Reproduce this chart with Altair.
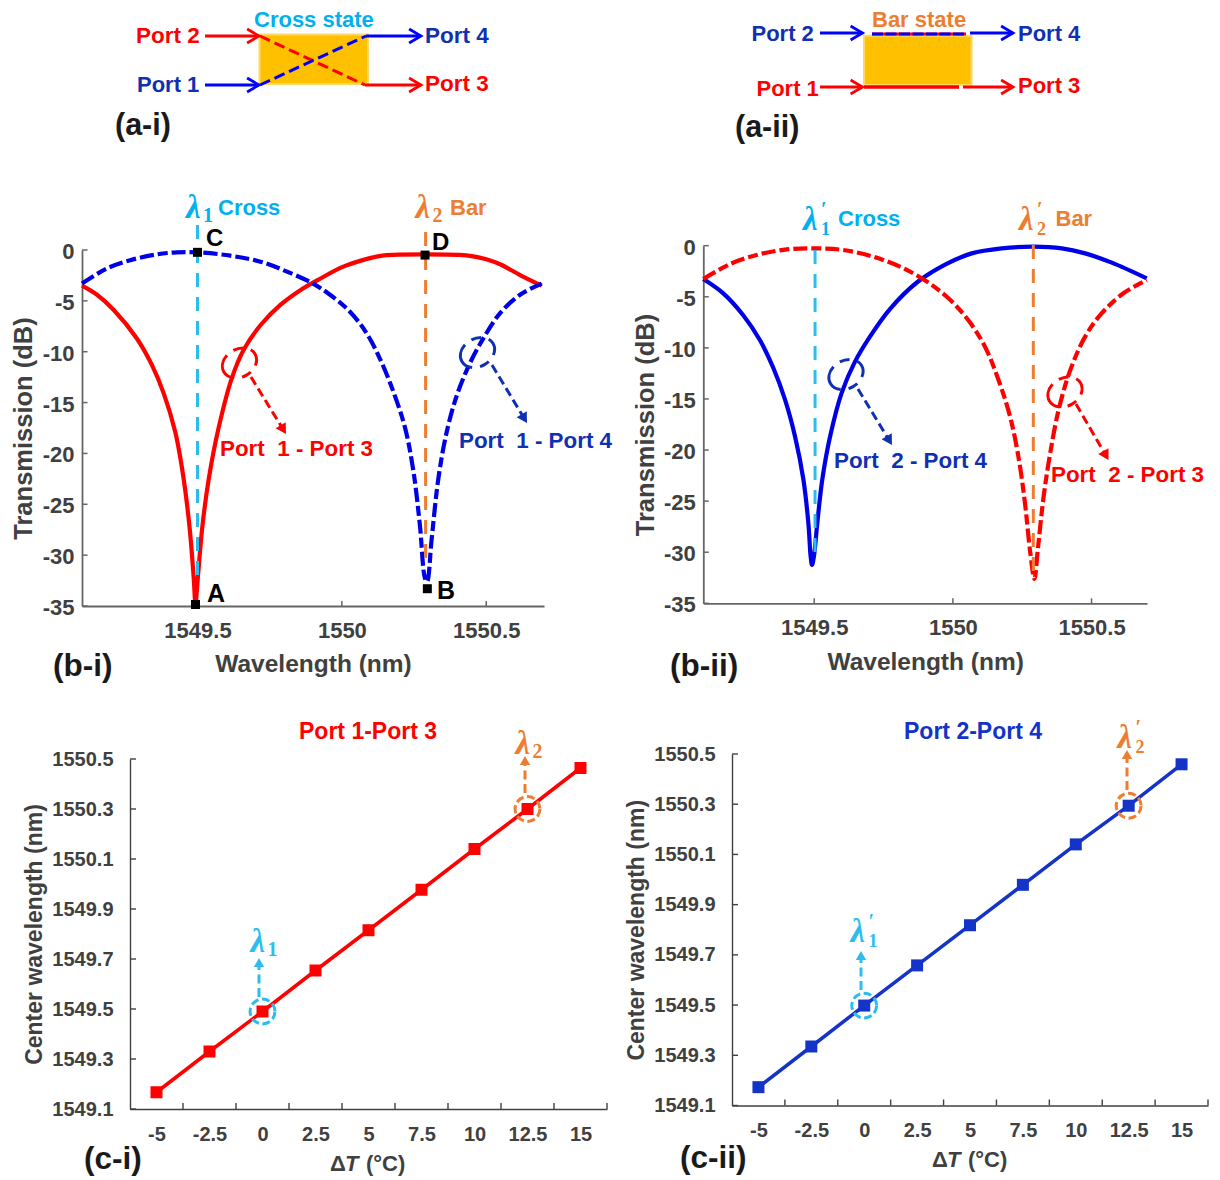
import math
import altair as alt
import pandas as pd

# ---------- data ----------
bi_red_wl = [1549.1,1549.152,1549.21,1549.29,1549.342,1549.383,1549.423,1549.452,1549.473,1549.487,1549.493,1549.501,1549.516,1549.539,1549.573,1549.62,1549.66,1549.718,1549.787,1549.856,1549.926,1550.005,1550.097,1550.14,1550.178,1550.288,1550.409,1550.45,1550.5,1550.548,1550.617,1550.692]
bi_red_db = [-3.5,-4.4,-5.9,-8.7,-11.3,-14.1,-17.9,-22.5,-27.4,-32.3,-34.75,-32.3,-27.4,-22.5,-17.5,-12.5,-9.8,-7.4,-5.4,-3.95,-2.8,-1.64,-0.8,-0.55,-0.47,-0.43,-0.48,-0.6,-0.9,-1.4,-2.46,-3.5]
bi_blue_wl = [1549.1,1549.187,1549.267,1549.36,1549.429,1549.504,1549.614,1549.718,1549.81,1549.9,1549.959,1550.028,1550.086,1550.132,1550.178,1550.219,1550.248,1550.27,1550.288,1550.295,1550.311,1550.334,1550.363,1550.398,1550.444,1550.496,1550.548,1550.617,1550.692]
bi_blue_db = [-3.3,-1.8,-1,-0.43,-0.23,-0.23,-0.56,-1.15,-2.13,-3.3,-4.4,-6.07,-8.2,-10.7,-13.9,-17.5,-21.8,-27,-32.3,-32.6,-28.4,-22.5,-17.9,-14.3,-11.1,-8.4,-6.2,-4.4,-3.3]
bii_blue_wl = [1549.1,1549.172,1549.244,1549.304,1549.353,1549.395,1549.431,1549.461,1549.479,1549.487,1549.492,1549.499,1549.511,1549.529,1549.557,1549.599,1549.647,1549.701,1549.773,1549.87,1549.972,1550.068,1550.176,1550.29,1550.393,1550.477,1550.573,1550.699]
bii_blue_db = [-3.26,-4.66,-6.8,-9.23,-12,-15.1,-18.7,-22.9,-27.2,-30.4,-31.25,-30.4,-27.2,-22.9,-18.7,-14.4,-11.35,-8.9,-6.2,-3.6,-1.85,-0.75,-0.26,-0.1,-0.26,-0.75,-1.66,-3.2]
bii_red_wl = [1549.1,1549.196,1549.292,1549.401,1549.503,1549.605,1549.713,1549.809,1549.9,1549.984,1550.056,1550.116,1550.164,1550.206,1550.236,1550.26,1550.278,1550.294,1550.306,1550.327,1550.351,1550.381,1550.423,1550.477,1550.537,1550.615,1550.699]
bii_red_db = [-3.26,-1.8,-0.91,-0.36,-0.26,-0.42,-1.08,-2.05,-3.4,-5.15,-7.3,-9.9,-13.1,-16.7,-20.6,-25.2,-29.8,-32.6,-29.8,-24.6,-20.3,-16.1,-12.2,-8.9,-6.6,-4.66,-3.36]
corner_wl = [1549.493,1550.296,1549.5,1550.288]
corner_db = [-34.85,-33.3,-0.23,-0.5]
delta_t = [-5,-2.5,0,2.5,5,7.5,10,12.5,15]
ci_wl = [1549.167,1549.33,1549.49,1549.654,1549.815,1549.977,1550.14,1550.30,1550.464]
cii_wl = [1549.173,1549.335,1549.498,1549.658,1549.818,1549.979,1550.14,1550.294,1550.459]
db_ticks = [-35,-30,-25,-20,-15,-10,-5,0]
wl_ticks = [1549.5,1550,1550.5]
cw_ticks = [1549.1,1549.3,1549.5,1549.7,1549.9,1550.1,1550.3,1550.5]
dt_edges = [-3.75,-1.25,1.25,3.75,6.25,8.75,11.25,13.75,16.25]

SANS = "Liberation Sans"
SERIF = "Liberation Serif"
RED = "#FF0000"
BLUE = "#0000E6"
PBLUE = "#0000FF"
NAVY = "#1030B4"
CBLUE = "#1433C8"
CYAN = "#00B0F0"
LCYAN = "#2BBDF0"
ORANGE = "#ED7D31"
GRAY = "#404040"
AXC = "#666666"
INK = "#1A1A1A"
VIEW_W, VIEW_H = 1204, 1164
M = 8  # page margin: everything below is given in picture pixels, less this margin
one = pd.DataFrame({"a": [0]})


class Panel:
    def __init__(self):
        self.layers = []

    def text(self, x, y, s, size=22, color="#000000", weight="bold", style="normal", font=SANS, align="left"):
        self.layers.append(alt.Chart(one).mark_text(text=s, fontSize=size, color=color, fontWeight=weight, fontStyle=style,
                           font=font, align=align, baseline="middle")
                           .encode(x=alt.value(x - M), y=alt.value(y + 0.06 * size - M)))

    def box(self, x1, y1, x2, y2):
        self.layers.append(alt.Chart(one).mark_rect(fill="#FFC000", stroke="#FFD966", strokeWidth=2)
                           .encode(x=alt.value(x1 - M), x2=alt.value(x2 - M), y=alt.value(y1 - M), y2=alt.value(y2 - M)))

    def seg(self, x1, y1, x2, y2, color, width=2.8, dash=None):
        kw = dict(strokeDash=dash) if dash else {}
        self.layers.append(alt.Chart(one).mark_rule(color=color, strokeWidth=width, **kw)
                           .encode(x=alt.value(x1 - M), x2=alt.value(x2 - M), y=alt.value(y1 - M), y2=alt.value(y2 - M)))

    def arrow(self, x1, y1, x2, y2, color, width=3, dash=(9, 4.5), size=140):
        L = math.hypot(x2 - x1, y2 - y1)
        ux, uy = (x2 - x1) / L, (y2 - y1) / L
        h = math.sqrt(size) / 2 * 0.866
        self.seg(x1, y1, x2 - ux * h, y2 - uy * h, color, width, list(dash))
        ang = math.degrees(math.atan2(ux, -uy)) % 360
        self.layers.append(alt.Chart(one).mark_point(shape="triangle-up", filled=True, size=size, color=color, opacity=1, angle=ang)
                           .encode(x=alt.value(x2 - ux * h - M), y=alt.value(y2 - uy * h - M)))

    def open_arrow(self, x1, y1, x2, y2, color):
        self.seg(x1, y1, x2, y2, color, 3)
        self.layers.append(alt.Chart(one).mark_point(shape="M-1.7,-1L0,0L-1.7,1", filled=False, size=196, color=color, opacity=1, strokeWidth=2.8)
                           .encode(x=alt.value(x2 - M), y=alt.value(y2 - M)))

    def ellipse(self, cx, cy, rx, ry, angle, color):
        r = ry / rx
        p = f"M-1,0A1,{r:.3f},0,1,1,1,0A1,{r:.3f},0,1,1,-1,0Z"
        self.layers.append(alt.Chart(one).mark_point(shape=p, filled=False, size=(2 * rx) ** 2, color=color, opacity=1, strokeWidth=3,
                                                     strokeDash=[18, 8, 10, 8], angle=angle)
                           .encode(x=alt.value(cx - M), y=alt.value(cy - M)))

    def lam(self, x, y, sub, color, prime=False, size=33):
        self.text(x, y, "\u03bb", size, color, "bold", "italic", SERIF)
        if prime:
            self.text(x + 18, y - 9, "\u2032", 20, color, "bold", "normal", SERIF)
            self.text(x + 18, y + 11, sub, 18, color, "bold", "normal", SERIF)
        else:
            self.text(x + 17, y + 9, sub, 20, color, "bold", "normal", SERIF)

    def chart(self, *base):
        return alt.layer(*base, *self.layers)


def spectrum(panel, left, right, bottom, top, solid, dashed, solid_color, dash_color, vlines, title_x, title_y, markers=False):
    x = alt.X("x:Q", scale=alt.Scale(domain=[1549.1, 1550.7], range=[left - M, right - M], nice=False, zero=False),
              axis=alt.Axis(orient="bottom", offset=-(VIEW_H - (bottom - M)), values=wl_ticks, labelExpr="''+datum.value", ticks=False, grid=False,
                            domainColor=AXC, domainWidth=1.8, labelFont=SANS, labelFontSize=22, labelFontWeight="bold", labelColor=GRAY, labelPadding=14,
                            title="Wavelength (nm)", titleFont=SANS, titleFontSize=24.5, titleFontWeight="bold", titleColor=GRAY,
                            titleBaseline="middle", titleY=title_y))
    y = alt.Y("y:Q", scale=alt.Scale(domain=[-35, 0], range=[bottom - M, top - M], nice=False, zero=False),
              axis=alt.Axis(orient="left", offset=-(left - M), values=db_ticks, labelExpr="''+datum.value", ticks=False, grid=False,
                            domainColor=AXC, domainWidth=1.8, labelFont=SANS, labelFontSize=22, labelFontWeight="bold", labelColor=GRAY, labelPadding=8,
                            labelOffset=1.5,
                            title="Transmission (dB)", titleFont=SANS, titleFontSize=25.5, titleFontWeight="bold", titleColor=GRAY,
                            titleBaseline="middle", titleX=title_x))
    base = [
        alt.Chart(pd.DataFrame({"x": wl_ticks})).mark_rule(color=AXC, strokeWidth=1.5)
        .encode(x=x, y=alt.value(bottom - M), y2=alt.value(bottom - M - 5)),
        alt.Chart(pd.DataFrame({"y": db_ticks})).mark_rule(color=AXC, strokeWidth=1.5)
        .encode(y=y, x=alt.value(left - M), x2=alt.value(left - M + 5.5)),
        alt.Chart(pd.DataFrame({"x": solid[0], "y": solid[1]})).mark_line(color=solid_color, strokeWidth=4.2, interpolate="catmull-rom")
        .encode(x=x, y=y),
        alt.Chart(pd.DataFrame({"x": dashed[0], "y": dashed[1]})).mark_line(color=dash_color, strokeWidth=4.2, interpolate="catmull-rom", strokeDash=[14, 4, 10, 4])
        .encode(x=x, y=y),
    ]
    for wl, t, b, col in vlines:
        base.append(alt.Chart(pd.DataFrame({"x": [wl]})).mark_rule(color=col, strokeWidth=3, strokeDash=[14, 10])
                    .encode(x=x, y=alt.value(t - M), y2=alt.value(b - M)))
    if markers:
        base.append(alt.Chart(pd.DataFrame({"x": corner_wl, "y": corner_db})).mark_point(shape="square", filled=True, size=81, color="#000000", opacity=1)
                    .encode(x=x, y=y))
    return base


def tuning(left, right, bottom, top, wl, color, title_x):
    x = alt.X("x:Q", scale=alt.Scale(domain=[-6.25, 16.25], range=[left - M, right - M], nice=False, zero=False),
              axis=alt.Axis(orient="bottom", offset=-(VIEW_H - (bottom - M)), values=delta_t, labelExpr="''+datum.value", ticks=False, grid=False,
                            domainColor=GRAY, domainWidth=1.4, labelFont=SANS, labelFontSize=20, labelFontWeight="bold", labelColor=GRAY, labelPadding=15, title=None))
    y = alt.Y("y:Q", scale=alt.Scale(domain=[1549.1, 1550.5], range=[bottom - M, top - M], nice=False, zero=False),
              axis=alt.Axis(orient="left", offset=-(left - M), values=cw_ticks, format=".1f", ticks=False, grid=False,
                            domainColor=GRAY, domainWidth=1.4, labelFont=SANS, labelFontSize=20, labelFontWeight="bold", labelColor=GRAY, labelPadding=17,
                            title="Center wavelength (nm)", titleFont=SANS, titleFontSize=23, titleFontWeight="bold", titleColor=GRAY,
                            titleBaseline="middle", titleX=title_x))
    df = pd.DataFrame({"x": delta_t, "y": wl})
    return [
        alt.Chart(pd.DataFrame({"x": dt_edges})).mark_rule(color=GRAY, strokeWidth=1.4).encode(x=x, y=alt.value(bottom - M), y2=alt.value(bottom - M - 6)),
        alt.Chart(pd.DataFrame({"y": cw_ticks})).mark_rule(color=GRAY, strokeWidth=1.4).encode(y=y, x=alt.value(left - M), x2=alt.value(left - M + 6)),
        alt.Chart(df).mark_line(color=color, strokeWidth=3.5).encode(x=x, y=y),
        alt.Chart(df).mark_point(shape="square", filled=True, size=144, color=color, opacity=1).encode(x=x, y=y),
        alt.Chart(df[df.x == 0]).mark_point(shape="circle", size=616, filled=False, color=LCYAN, opacity=1, strokeWidth=3, strokeDash=[8, 3.5]).encode(x=x, y=y),
        alt.Chart(df[df.x == 12.5]).mark_point(shape="circle", size=616, filled=False, color=ORANGE, opacity=1, strokeWidth=3, strokeDash=[8, 3.5]).encode(x=x, y=y),
    ]


# ---------- (a-i) ----------
ai = Panel()
ai.box(259.5, 34.5, 368, 84)
ai.seg(260, 36, 365, 85, RED, 3, [11, 5])
ai.seg(260, 85, 366, 36, PBLUE, 3, [11, 5])
ai.open_arrow(205, 36, 259, 36, RED)
ai.open_arrow(205, 85, 259, 85, PBLUE)
ai.open_arrow(366, 36, 421, 36, PBLUE)
ai.open_arrow(365, 85, 421, 85, RED)
ai.text(136, 35, "Port 2", 22.5, RED)
ai.text(137, 84, "Port 1", 22, NAVY)
ai.text(425, 35, "Port 4", 22.5, NAVY)
ai.text(425, 83, "Port 3", 22.5, RED)
ai.text(254, 18.5, "Cross state", 22, CYAN)
ai.text(115, 124, "(a-i)", 30.5, INK)

# ---------- (a-ii) ----------
aii = Panel()
aii.box(864, 35.7, 971.5, 85)
aii.seg(872, 34, 966, 34, RED, 3)
aii.seg(872, 34, 966, 34, PBLUE, 3, [11, 2.5])
aii.seg(864, 87, 959, 87, RED, 3.4)
aii.seg(963, 87, 970, 87, RED, 3)
aii.open_arrow(820, 33, 862.5, 33, PBLUE)
aii.open_arrow(970, 33, 1013, 33, PBLUE)
aii.open_arrow(820, 87, 862.5, 87, RED)
aii.open_arrow(970, 87, 1013, 87, RED)
aii.text(751.5, 33, "Port 2", 22, NAVY)
aii.text(1018, 33, "Port 4", 22, NAVY)
aii.text(756.5, 88, "Port 1", 22, RED)
aii.text(1018, 85, "Port 3", 22, RED)
aii.text(872, 18.5, "Bar state", 22, ORANGE)
aii.text(735, 126, "(a-ii)", 30.5, INK)

# ---------- (b-i) ----------
bi = Panel()
bi.lam(186, 206, "1", CYAN)
bi.text(218, 207, "Cross", 22, CYAN)
bi.lam(415.5, 206, "2", ORANGE)
bi.text(450, 207, "Bar", 22, ORANGE)
bi.text(206, 238, "C", 24, "#000000")
bi.text(432, 242, "D", 24, "#000000")
bi.text(207, 592, "A", 25, "#000000")
bi.text(437, 589, "B", 25, "#000000")
bi.ellipse(239.5, 363, 18, 14, 330, RED)
bi.arrow(251, 377, 286, 434, RED)
bi.ellipse(477.5, 352.5, 18, 14, 330, NAVY)
bi.arrow(492, 365, 527, 423, NAVY)
bi.text(220, 448, "Port\u00a0\u00a01 - Port 3", 22.4, RED)
bi.text(459, 440, "Port\u00a0\u00a01 - Port 4", 22.4, NAVY)
bi.text(53, 665, "(b-i)", 31.5, INK)
bi_base = spectrum(bi, 82, 544, 606, 250, (bi_red_wl, bi_red_db), (bi_blue_wl, bi_blue_db), RED, BLUE,
                   [(1549.5, 225, 585, LCYAN), (1550.29, 232, 565, ORANGE)], -59, 58, markers=True)

# ---------- (b-ii) ----------
bii = Panel()
bii.lam(803, 218, "1", CYAN, prime=True)
bii.text(838, 218, "Cross", 22, CYAN)
bii.lam(1019, 218, "2", ORANGE, prime=True)
bii.text(1055.5, 218, "Bar", 22, ORANGE)
bii.ellipse(846, 374.5, 18, 14, 330, NAVY)
bii.arrow(858, 389, 892, 445, NAVY)
bii.ellipse(1065, 392, 18, 14, 330, RED)
bii.arrow(1076, 404, 1108.5, 460, RED)
bii.text(834, 460, "Port\u00a0\u00a02 - Port 4", 22.4, NAVY)
bii.text(1051, 474, "Port\u00a0\u00a02 - Port 3", 22.4, RED)
bii.text(670, 665, "(b-ii)", 31.5, INK)
bii_base = spectrum(bii, 703.3, 1147, 603.3, 245.7, (bii_blue_wl, bii_blue_db), (bii_red_wl, bii_red_db), BLUE, RED,
                    [(1549.503, 250, 560, LCYAN), (1550.29, 245, 573, ORANGE)], -58, 59)

# ---------- (c-i) ----------
ci = Panel()
ci.text(299, 731, "Port 1-Port 3", 23, RED)
ci.arrow(259, 997, 259, 958, LCYAN, size=110)
ci.lam(250.5, 940, "1", LCYAN)
ci.arrow(525, 793, 525, 756, ORANGE, size=110)
ci.lam(515.5, 742, "2", ORANGE)
ci.text(330, 1163, "\u0394", 22, GRAY)
ci.text(345, 1163, "T", 22, GRAY, style="italic")
ci.text(366, 1163, "(\u00b0C)", 22, GRAY)
ci.text(84, 1158, "(c-i)", 31.5, INK)
ci_base = tuning(130, 607, 1109, 759, ci_wl, RED, -96)

# ---------- (c-ii) ----------
cii = Panel()
cii.text(904, 731, "Port 2-Port 4", 23, CBLUE)
cii.arrow(861, 990, 861, 951, LCYAN, size=110)
cii.lam(850.5, 930, "1", LCYAN, prime=True)
cii.arrow(1127, 790, 1127, 750, ORANGE, size=110)
cii.lam(1117.5, 736, "2", ORANGE, prime=True)
cii.text(932, 1159, "\u0394", 22, GRAY)
cii.text(947, 1159, "T", 22, GRAY, style="italic")
cii.text(968, 1159, "(\u00b0C)", 22, GRAY)
cii.text(680, 1157, "(c-ii)", 31.5, INK)
cii_base = tuning(732, 1208, 1105.5, 754, cii_wl, CBLUE, -95.5)

chart = (
    alt.layer(ai.chart(), aii.chart(), bi.chart(*bi_base), bii.chart(*bii_base), ci.chart(*ci_base), cii.chart(*cii_base))
    .resolve_scale(x="independent", y="independent")
    .resolve_axis(x="independent", y="independent")
    .properties(width=VIEW_W, height=VIEW_H, padding=0)
    .configure_view(stroke=None)
)
chart.save("out.html", embed_options={"renderer": "svg", "actions": False})
